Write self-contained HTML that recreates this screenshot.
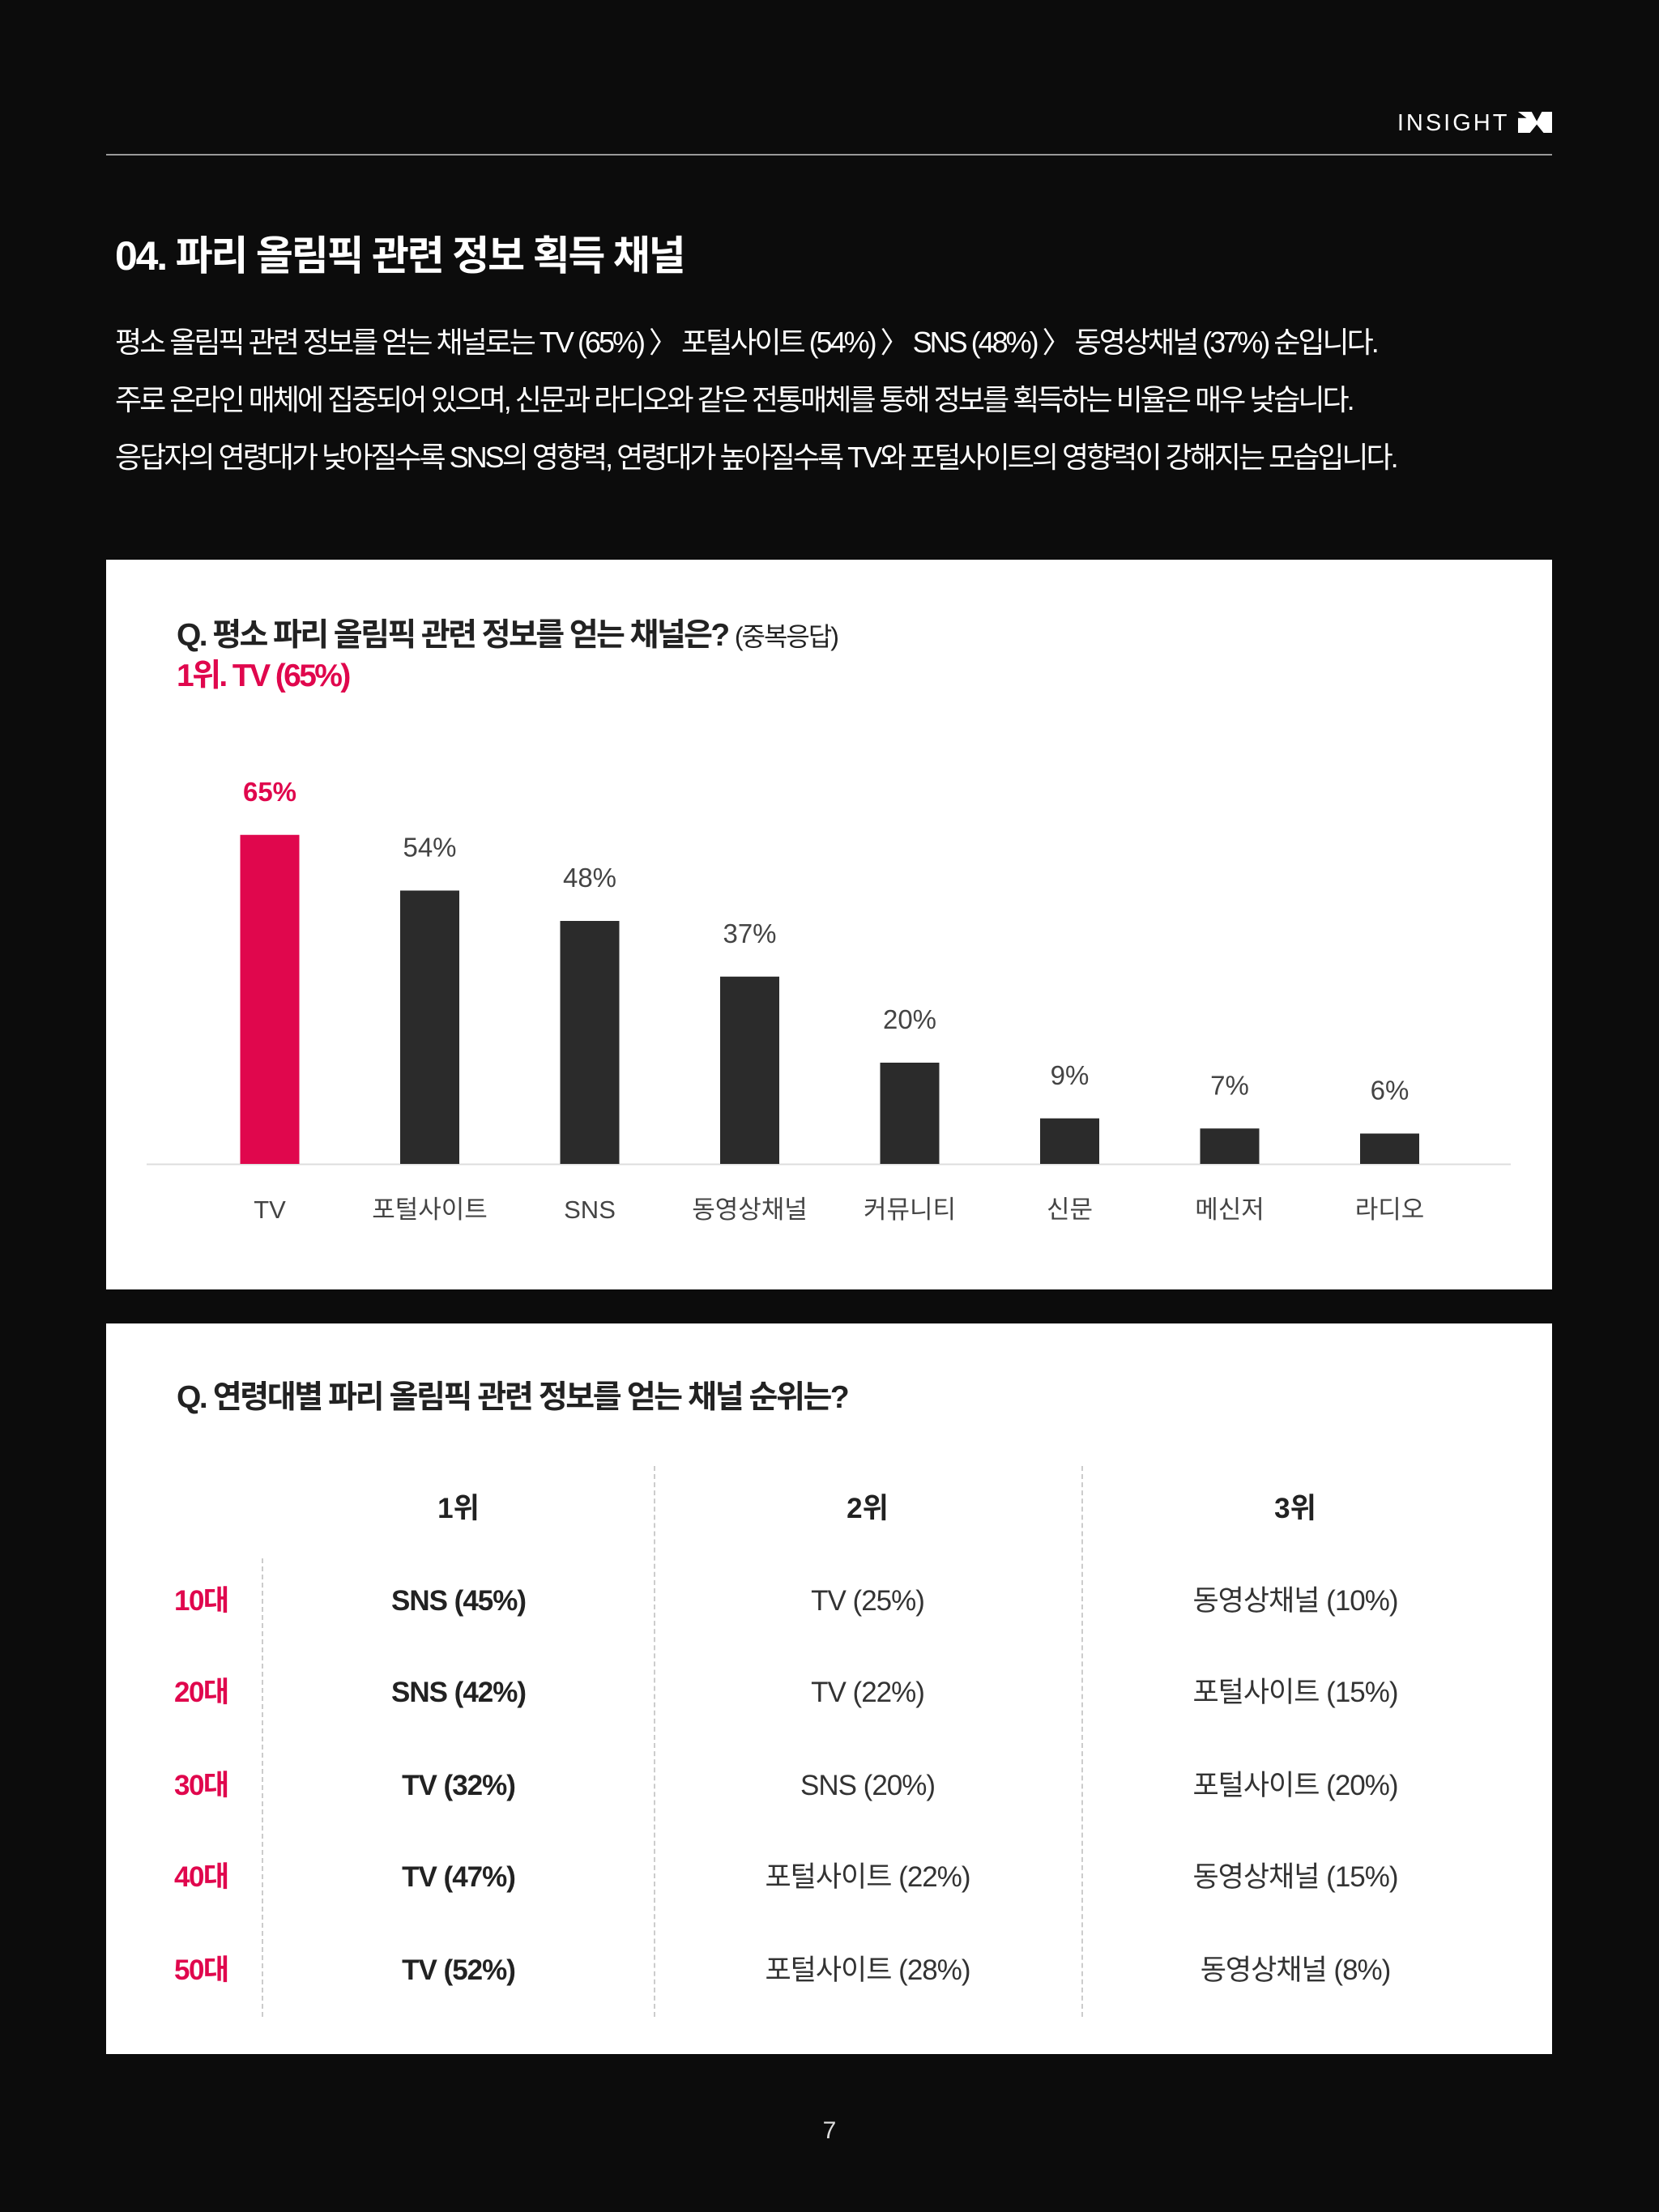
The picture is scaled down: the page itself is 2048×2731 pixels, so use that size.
<!DOCTYPE html>
<html><head><meta charset="utf-8">
<style>
body{margin:0;background:#0c0c0c;width:2048px;height:2731px;position:relative;overflow:hidden;font-family:"Liberation Sans","Noto Sans CJK KR",sans-serif;}
.a{position:absolute;white-space:nowrap;}
#tbl .a{line-height:46px;height:46px;}
</style></head><body>
<div class="a" style="right:132px;top:136px;color:#fff;font-size:29px;letter-spacing:3px;">INSIGHT <span style="display:inline-block;width:42px;height:26px;background:#fff;vertical-align:-3px;clip-path:polygon(0 0,40% 0,55% 45%,70% 0,100% 0,100% 100%,75% 100%,55% 60%,35% 100%,0 100%,0 30%,25% 30%,0 0);"></span></div>
<div class="a" style="left:131px;top:190px;width:1785px;height:2px;background:#9a9a9a;"></div>
<div class="a" style="left:142px;top:276px;color:#fff;font-size:50px;font-weight:bold;letter-spacing:-2.2px;">04. 파리 올림픽 관련 정보 획득 채널</div>
<div class="a" style="left:142px;top:387px;color:#fff;font-size:36px;letter-spacing:-3px;line-height:71px;">평소 올림픽 관련 정보를 얻는 채널로는 TV (65%) 〉 포털사이트 (54%) 〉 SNS (48%) 〉 동영상채널 (37%) 순입니다.<br>주로 온라인 매체에 집중되어 있으며, 신문과 라디오와 같은 전통매체를 통해 정보를 획득하는 비율은 매우 낮습니다.<br>응답자의 연령대가 낮아질수록 SNS의 영향력, 연령대가 높아질수록 TV와 포털사이트의 영향력이 강해지는 모습입니다.</div>

<div class="a" style="left:131px;top:691px;width:1785px;height:901px;background:#fff;">
<div class="a" style="left:87px;top:62px;color:#222;font-size:39px;font-weight:bold;letter-spacing:-2.6px;">Q. 평소 파리 올림픽 관련 정보를 얻는 채널은? <span style="font-weight:normal;font-size:32px;letter-spacing:-2px;">(중복응답)</span></div>
<div class="a" style="left:87px;top:112px;color:#e0074d;font-size:39px;font-weight:bold;letter-spacing:-2.6px;">1위. TV (65%)</div>
<svg id="chart" width="1785" height="901" style="position:absolute;left:0;top:0;"></svg>
</div>

<div class="a" style="left:131px;top:1634px;width:1785px;height:902px;background:#fff;">
<div class="a" style="left:87px;top:60px;color:#222;font-size:39px;font-weight:bold;letter-spacing:-2.4px;">Q. 연령대별 파리 올림픽 관련 정보를 얻는 채널 순위는?</div>
<div id="tbl"></div>
</div>
<div class="a" style="left:0;width:2048px;text-align:center;top:2614px;color:#ddd;font-size:30px;">7</div>

<script>
const categories=["TV","포털사이트","SNS","동영상채널","커뮤니티","신문","메신저","라디오"];
const values=[65,54,48,37,20,9,7,6];
const labels=["65%","54%","48%","37%","20%","9%","7%","6%"];
const NS="http://www.w3.org/2000/svg";
const svg=document.getElementById('chart');
const base=746, scale=6.25, x0=202, step=197.5, bw=73;
function yv(v){return base-v*scale;}
function xc(i){return x0+i*step;}
function mk(t,a){const e=document.createElementNS(NS,t);for(const k in a)e.setAttribute(k,a[k]);svg.appendChild(e);return e;}
const ax=mk('line',{x1:50,x2:1734,y1:base+0.5,y2:base+0.5,stroke:'#ddd','stroke-width':2});


values.forEach((v,i)=>{
 const r=mk('rect',{x:xc(i)-bw/2,y:yv(v),width:bw,height:v*scale,fill:i===0?'#e0074d':'#2b2b2b'});
 
 
 const t=mk('text',{x:xc(i),y:yv(v)-42,'text-anchor':'middle','font-size':33,fill:i===0?'#e0074d':'#444','font-weight':i===0?'bold':'normal','font-family':'Liberation Sans, Noto Sans CJK KR, sans-serif'});
 t.textContent=labels[i];
 
 
 const c=mk('text',{x:xc(i),y:813,'text-anchor':'middle','font-size':31,fill:'#444','font-family':'Liberation Sans, Noto Sans CJK KR, sans-serif'});
 c.textContent=categories[i];
 
 
});

const ages=["10대","20대","30대","40대","50대"];
const rank1=["SNS (45%)","SNS (42%)","TV (32%)","TV (47%)","TV (52%)"];
const rank2=["TV (25%)","TV (22%)","SNS (20%)","포털사이트 (22%)","포털사이트 (28%)"];
const rank3=["동영상채널 (10%)","포털사이트 (15%)","포털사이트 (20%)","동영상채널 (15%)","동영상채널 (8%)"];
const tbl=document.getElementById('tbl');
const cols=[435,940,1468], rows=[343,456,571,684,799];
function div(name,style,txt){const d=document.createElement('div');d.className='a';d.setAttribute('style',style);if(txt)d.textContent=txt;tbl.appendChild(d);return d;}
["1위","2위","3위"].forEach((h,i)=>div('column-header',`left:${cols[i]-200}px;width:400px;text-align:center;top:206px;font-size:35px;font-weight:bold;color:#222;`,h));
div('divider-age','left:192px;top:290px;height:566px;border-left:2px dashed #ccc;');
div('divider-col2','left:676px;top:176px;height:680px;border-left:2px dashed #ccc;');
div('divider-col3','left:1204px;top:176px;height:680px;border-left:2px dashed #ccc;');
ages.forEach((a,r)=>{
 const y=rows[r]-23;
 div('age-label',`left:84px;width:140px;top:${y}px;font-size:35px;font-weight:bold;color:#e0074d;letter-spacing:-1.5px;`,a);
 div('rank1-cell',`left:${cols[0]-250}px;width:500px;text-align:center;top:${y}px;font-size:35px;font-weight:bold;color:#222;letter-spacing:-1px;`,rank1[r]);
 div('rank2-cell',`left:${cols[1]-250}px;width:500px;text-align:center;top:${y}px;font-size:35px;color:#333;letter-spacing:-1px;`,rank2[r]);
 div('rank3-cell',`left:${cols[2]-250}px;width:500px;text-align:center;top:${y}px;font-size:35px;color:#333;letter-spacing:-1px;`,rank3[r]);
});
</script>
</body></html>
